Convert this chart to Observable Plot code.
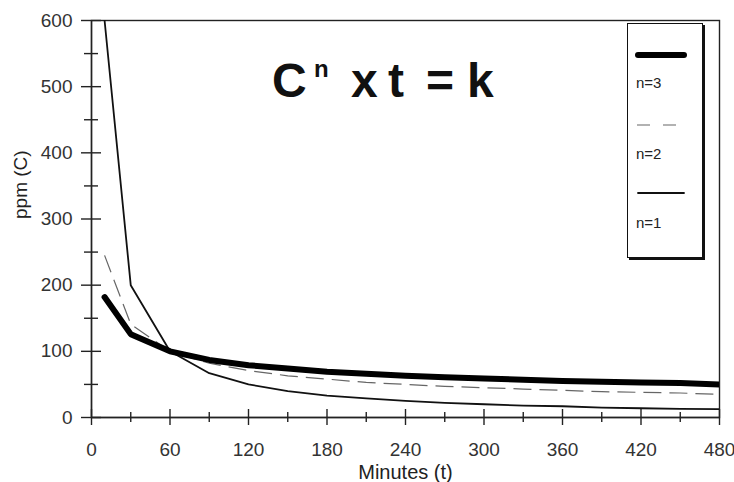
<!DOCTYPE html>
<html>
<head>
<meta charset="utf-8">
<script src="https://cdn.jsdelivr.net/npm/d3@7"></script>
<script src="https://cdn.jsdelivr.net/npm/@observablehq/plot@0.6"></script>
<style>
  html, body { margin: 0; padding: 0; background: #fff; }
  #wrap { position: relative; width: 734px; height: 482px; font-family: "Liberation Sans", Arial, sans-serif; }
  #title { position: absolute; left: 0; top: 0; width: 734px; height: 120px; font-weight: bold; color: #111; white-space: nowrap; }
  #title span { position: absolute; top: 57px; font-size: 48px; line-height: 48px; }
  #title span.sup { font-size: 24px; line-height: 24px; }
  #legend { position: absolute; left: 627px; top: 23px; width: 74px; height: 233px; border: 1.5px solid #111; background: #fff; box-shadow: 2px 2px 0 #111; }
  .lab { position: absolute; left: 8px; font-size: 15px; color: #222; }
</style>
</head>
<body>
<div id="wrap">
  <div id="chart"></div>
  <div id="title"><span style="left:272px">C</span><span class="sup" style="left:314px">n</span><span style="left:351px">x</span><span style="left:388px">t</span><span style="left:426px">=</span><span style="left:467px">k</span></div>
  <div id="legend"></div>
</div>
<script>
const minutes = [10, 30, 60, 90, 120, 150, 180, 210, 240, 270, 300, 330, 360, 390, 420, 450, 480];
const n3 = [182, 126, 100, 87, 79, 74, 69, 66, 63, 61, 59, 57, 55, 54, 53, 52, 50];
const n2 = [245, 141, 100, 82, 71, 63, 58, 53, 50, 47, 45, 43, 41, 39, 38, 37, 35];
const n1 = [600, 200, 100, 67, 50, 40, 33, 29, 25, 22, 20, 18, 17, 15, 14, 13, 12.5];
const seriesNames = ["n=3", "n=2", "n=1"];
const xMajor = [0, 60, 120, 180, 240, 300, 360, 420, 480];
const xMinor = [30, 90, 150, 210, 270, 330, 390, 450];
const yMajor = [0, 100, 200, 300, 400, 500, 600];
const yMinor = [50, 150, 250, 350, 450, 550];

const styles = {
  "n=3": {stroke: "#000", strokeWidth: 6, dash: null, legendDash: null},
  "n=2": {stroke: "#666", strokeWidth: 1.2, dash: "18,8", legendDash: "13,13"},
  "n=1": {stroke: "#111", strokeWidth: 1.8, dash: null, legendDash: null}
};
const seriesData = {"n=3": n3, "n=2": n2, "n=1": n1};
const rows = n => minutes.map((t, i) => ({t, c: seriesData[n][i]}));

const axisStyle = {stroke: "#222", strokeWidth: 1.4};

const plot = Plot.plot({
  width: 734, height: 482,
  marginLeft: 91, marginRight: 15, marginTop: 20, marginBottom: 65,
  style: {fontFamily: "Liberation Sans, Arial, sans-serif", background: "white", fontSize: "19px", color: "#333"},
  x: {domain: [0, 480], label: null},
  y: {domain: [0, 600], label: null},
  marks: [
    Plot.frame({stroke: "#222", strokeWidth: 1.4}),
    Plot.axisX(xMajor, {tickSize: 8, tickPadding: 17, ...axisStyle, tickFormat: d => d}),
    Plot.axisX(xMajor, {tickSize: -8, tickFormat: () => "", ...axisStyle}),
    Plot.axisX(xMinor, {tickSize: 5, tickFormat: () => "", ...axisStyle}),
    Plot.axisX(xMinor, {tickSize: -5, tickFormat: () => "", ...axisStyle}),
    Plot.axisY(yMajor, {tickSize: 10, tickPadding: 9, ...axisStyle, tickFormat: d => d}),
    Plot.axisY(yMajor, {tickSize: -10, tickFormat: () => "", ...axisStyle}),
    Plot.axisY(yMinor, {tickSize: 7, tickFormat: () => "", ...axisStyle}),
    Plot.axisY(yMinor, {tickSize: -7, tickFormat: () => "", ...axisStyle}),
    Plot.ruleY([0], {stroke: "#222", strokeWidth: 1.4}),
    Plot.ruleX([0], {stroke: "#222", strokeWidth: 1.4}),
    ...["n=2", "n=1", "n=3"].map(n => Plot.line(rows(n), {
      x: "t", y: "c", stroke: styles[n].stroke, strokeWidth: styles[n].strokeWidth,
      strokeDasharray: styles[n].dash, strokeLinejoin: "round", strokeLinecap: n === "n=2" ? "butt" : "round", clip: true
    })),
    Plot.text(["Minutes (t)"], {frameAnchor: "bottom", lineAnchor: "middle", dy: 55, text: d => d, fontSize: 20, fill: "#222"}),
    Plot.text(["ppm (C)"], {frameAnchor: "left", lineAnchor: "middle", dx: -71, rotate: -90, text: d => d, fontSize: 19, fill: "#222"})
  ]
});
document.getElementById("chart").appendChild(plot);

// legend
const leg = document.getElementById("legend");
const lineY = [31, 101, 169];
const labY = [50, 121, 190];
seriesNames.forEach((n, i) => {
  const s = styles[n];
  const svg = d3.create("svg").attr("width", 60).attr("height", 12)
    .style("position", "absolute").style("left", "6px").style("top", (lineY[i] - 6) + "px");
  svg.append("line").attr("x1", s.legendDash ? 3 : 4).attr("x2", s.legendDash ? 42 : 50).attr("y1", 6).attr("y2", 6)
    .attr("stroke", s.stroke).attr("stroke-width", s.strokeWidth)
    .attr("stroke-linecap", s.legendDash ? "butt" : "round").attr("stroke-dasharray", s.legendDash);
  leg.appendChild(svg.node());
  const d = document.createElement("div");
  d.className = "lab"; d.style.top = labY[i] + "px"; d.textContent = n;
  leg.appendChild(d);
});
</script>
</body>
</html>
